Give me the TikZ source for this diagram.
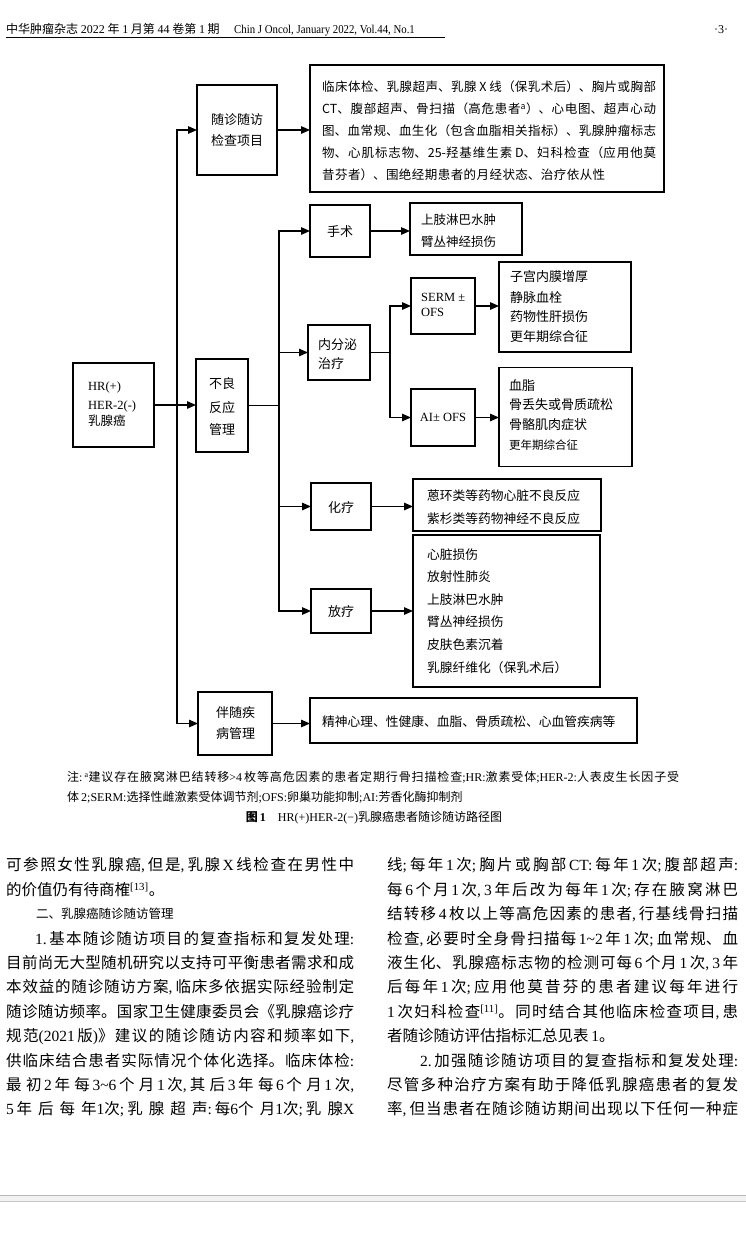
\documentclass[tikz,border=0pt]{standalone}
\usepackage{fontspec}
\setmainfont{Noto Sans CJK SC}
\newfontfamily\lat{Liberation Serif}
\newfontfamily\latc[FakeStretch=0.9]{Liberation Serif}
\usetikzlibrary{arrows.meta}
\XeTeXlinebreaklocale "zh"
\XeTeXlinebreakskip=0pt plus 1fil
\setlength{\parindent}{0pt}
\newcommand\myfa{\fontsize{12.5}{15}\selectfont}
\newcommand\myfb{\fontsize{13}{15}\selectfont}
\newcommand\myfc{\fontsize{12.75}{15}\selectfont}
\newcommand\myfs{\fontsize{11.5}{14}\selectfont}
\newcommand\myfl{\fontsize{12.5}{15}\selectfont\lat}
\newcommand\myfbody{\fontsize{15.5}{18}\selectfont}
\newcommand\myfsec{\fontsize{12.5}{15}\selectfont}
\newcommand\myfcap{\fontsize{12}{14}\selectfont}
\newcommand\pcm{{\lat,}\hspace{0.2em}}
\newcommand\psc{{\lat;}\hspace{0.2em}}
\newcommand\pco{{\lat:}\hspace{0.2em}}
\newcommand\jline[5]{\node[inner sep=0pt,anchor=base west,text width=#3pt,align=justify,font=#4] (#1) at (#2) {\parfillskip=0pt\relax #5\par};}
\tikzset{
  box/.style={draw, line width=1.35pt, inner sep=0pt, outer sep=0pt},
  arr/.style={line width=1.35pt, -{Triangle[length=9pt,width=7.5pt]}},
  ln/.style={line width=1.35pt, line cap=rect},
  tx/.style={inner sep=0pt, anchor=base west},
  tc/.style={inner sep=0pt, anchor=base},
}
\begin{document}
\begin{tikzpicture}[x=1pt,y=-1pt]
\fill[white] (0,0) rectangle (746,1243);
\useasboundingbox (0,0) rectangle (746,1243);

% header
\node[tx,font=\myfcap] (h1) at (6,33) {中华肿瘤杂志 {\lat 2022} 年 {\lat 1} 月第 {\lat 44} 卷第 {\lat 1} 期};
\node[tx,font=\myfcap\latc] (h2) at (234,33) {Chin J Oncol, January 2022, Vol.44, No.1};
\node[tx,font=\myfcap\lat] (h3) at (714,33) {·3·};
\draw[line width=0.7pt] (6,37.5) -- (445,37.5);

% boxes
\node[box, minimum width=354pt, minimum height=127pt] (exam) at (487,128.5) {};
\node[box, minimum width=80pt, minimum height=90pt] (sz) at (237,130) {};
\node[box, minimum width=81pt, minimum height=84pt] (hr) at (113.5,405) {};
\node[box, minimum width=52pt, minimum height=93pt] (bl) at (222,405.5) {};
\node[box, minimum width=60pt, minimum height=52pt] (ss) at (340,231) {};
\node[box, minimum width=112pt, minimum height=52pt] (ssr) at (466,229) {};
\node[box, minimum width=62pt, minimum height=55pt] (nf) at (339,352.5) {};
\node[box, minimum width=64pt, minimum height=56pt] (serm) at (443,306) {};
\node[box, minimum width=132pt, minimum height=90pt] (sermr) at (565,307) {};
\node[box, minimum width=64pt, minimum height=57pt] (ai) at (443,417.5) {};
\node[box, minimum width=133pt, minimum height=99pt] (air) at (565.5,417.2) {};
\node[box, minimum width=60pt, minimum height=47pt] (hl) at (341,506.5) {};
\node[box, minimum width=188pt, minimum height=52pt] (hlr) at (507,505) {};
\node[box, minimum width=60pt, minimum height=44pt] (fl) at (341,611) {};
\node[box, minimum width=187pt, minimum height=152pt] (flr) at (506.5,611) {};
\node[box, minimum width=74pt, minimum height=63pt] (bs) at (235,723.5) {};
\node[box, minimum width=327pt, minimum height=45pt] (bsr) at (473.5,720.5) {};

% connectors
\coordinate (t1a) at (177,130);
\coordinate (t1b) at (177,723.5);
\draw[ln] (t1a) -- (t1b);
\draw[arr] (t1a) -- (sz.west);
\draw[arr] (t1b) -- (bs.west);
\draw[arr] (sz.east) -- (exam.west |- sz.east);
\draw[arr] (hr.east) -- (bl.west |- hr.east);
\coordinate (t2a) at (279,231);
\coordinate (t2b) at (279,611);
\draw[ln] (bl.east) -- (t2a |- bl.east);
\draw[ln] (t2a) -- (t2b);
\draw[arr] (t2a) -- (ss.west);
\draw[arr] (t2a |- nf.west) -- (nf.west);
\draw[arr] (t2a |- hl.west) -- (hl.west);
\draw[arr] (t2b) -- (fl.west);
\draw[arr] (ss.east) -- (ssr.west |- ss.east);
\coordinate (j) at (390,352.5);
\draw[ln] (nf.east) -- (j);
\draw[ln] (j |- serm.west) -- (j |- ai.west);
\draw[arr] (j |- serm.west) -- (serm.west);
\draw[arr] (j |- ai.west) -- (ai.west);
\draw[arr] (serm.east) -- (sermr.west |- serm.east);
\draw[arr] (ai.east) -- (air.west |- ai.east);
\draw[arr] (hl.east) -- (hlr.west |- hl.east);
\draw[arr] (fl.east) -- (flr.west |- fl.east);
\draw[arr] (bs.east) -- (bsr.west |- bs.east);

% top box text
\jline{ex1}{322,91.75}{334}{\myfa}{临床体检、乳腺超声、乳腺 X 线（保乳术后）、胸片或胸部}
\jline{ex2}{322,113.75}{334}{\myfa}{CT、腹部超声、骨扫描（高危患者\textsuperscript{a}）、心电图、超声心动}
\jline{ex3}{322,135.75}{334}{\myfa}{图、血常规、血生化（包含血脂相关指标）、乳腺肿瘤标志}
\jline{ex4}{322,157.75}{334}{\myfa}{物、心肌标志物、25-羟基维生素 D、妇科检查（应用他莫}
\jline{ex5}{322,179.75}{283}{\myfa}{昔芬者）、围绝经期患者的月经状态、治疗依从性}

% box labels
\node[tc,font=\myfb] (szt1) at (237,124.9) {随诊随访};
\node[tc,font=\myfb] (szt2) at (237,145.9) {检查项目};
\node[tx,font=\myfl] (hrt1) at (88,390) {HR(+)};
\node[tx,font=\myfl] (hrt2) at (88,409) {HER-2(-)};
\node[tx,font=\myfa] (hrt3) at (88,425.5) {乳腺癌};
\node[tc,font=\myfb] (blt1) at (222,388) {不良};
\node[tc,font=\myfb] (blt2) at (222,412) {反应};
\node[tc,font=\myfb] (blt3) at (222,434) {管理};
\node[tc,font=\myfb] (sst) at (340,236) {手术};
\node[tx,font=\myfb] (nft1) at (318,349) {内分泌};
\node[tx,font=\myfb] (nft2) at (318,368) {治疗};
\node[tx,font=\myfl] (smt1) at (421,301) {SERM ±};
\node[tx,font=\myfl] (smt2) at (421,316.5) {OFS};
\node[tc,font=\myfl] (ait) at (443,421.5) {AI± OFS};
\node[tc,font=\myfb] (hlt) at (341,512) {化疗};
\node[tc,font=\myfb] (flt) at (341,616) {放疗};
\node[tx,font=\myfb] (bst1) at (216,717) {伴随疾};
\node[tx,font=\myfb] (bst2) at (216,738) {病管理};

% result texts
\node[tx,font=\myfa] (sr1) at (421,224.75) {上肢淋巴水肿};
\node[tx,font=\myfa] (sr2) at (421,246.75) {臂丛神经损伤};
\node[tx,font=\myfb] (er1) at (510,281.9) {子宫内膜增厚};
\node[tx,font=\myfb] (er2) at (510,302.9) {静脉血栓};
\node[tx,font=\myfb] (er3) at (510,321.9) {药物性肝损伤};
\node[tx,font=\myfb] (er4) at (510,341.4) {更年期综合征};
\node[tx,font=\myfb] (ar1) at (509,390.9) {血脂};
\node[tx,font=\myfb] (ar2) at (509,409.9) {骨丢失或骨质疏松};
\node[tx,font=\myfb] (ar3) at (509,429.4) {骨骼肌肉症状};
\node[tx,font=\myfs] (ar4) at (509,449.4) {更年期综合征};
\node[tx,font=\myfc] (cr1) at (427,500.85) {蒽环类等药物心脏不良反应};
\node[tx,font=\myfc] (cr2) at (427,523.85) {紫杉类等药物神经不良反应};
\node[tx,font=\myfc] (rr1) at (427,559.85) {心脏损伤};
\node[tx,font=\myfc] (rr2) at (427,581.85) {放射性肺炎};
\node[tx,font=\myfc] (rr3) at (427,604.85) {上肢淋巴水肿};
\node[tx,font=\myfc] (rr4) at (427,626.85) {臂丛神经损伤};
\node[tx,font=\myfc] (rr5) at (427,649.85) {皮肤色素沉着};
\node[tx,font=\myfc] (rr6) at (427,672.85) {乳腺纤维化（保乳术后）};
\node[tx,font=\myfc] (br1) at (322,726.85) {精神心理、性健康、血脂、骨质疏松、心血管疾病等};

% notes and caption
\jline{n1}{67,781.6}{612}{\myfcap}{注{\lat :}\,\textsuperscript{\lat a}建议存在腋窝淋巴结转移{\lat >4}\,枚等高危因素的患者定期行骨扫描检查{\lat ;HR:}激素受体{\lat ;HER-2:}人表皮生长因子受}
\node[tx,font=\myfcap] (n2) at (67,801.6) {体\,{\lat 2;SERM:}选择性雌激素受体调节剂{\lat ;OFS:}卵巢功能抑制{\lat ;AI:}芳香化酶抑制剂};
\node[tc,font=\myfcap] (cap) at (374,821.6) {{\bfseries 图\,{\lat 1}}\quad{\lat HR(+)HER-2(−)}乳腺癌患者随诊随访路径图};

% body left column
\jline{l1}{6,870.9}{348}{\myfbody}{可参照女性乳腺癌\pcm 但是\pcm 乳腺\,{\lat X}\,线检查在男性中}
\node[tx,font=\myfbody] (l2) at (6,895.3) {的价值仍有待商榷\textsuperscript{\lat [13]}。};
\node[tx,font=\myfsec] (l3) at (36,918.8) {二、乳腺癌随诊随访管理};
\jline{l4}{35,944.1}{319}{\myfbody}{{\lat 1.}\,基本随诊随访项目的复查指标和复发处理\pco}
\jline{l5}{6,968.5}{348}{\myfbody}{目前尚无大型随机研究以支持可平衡患者需求和成}
\jline{l6}{6,992.9}{348}{\myfbody}{本效益的随诊随访方案\pcm 临床多依据实际经验制定}
\jline{l7}{6,1017.3}{348}{\myfbody}{随诊随访频率。国家卫生健康委员会《乳腺癌诊疗}
\jline{l8}{6,1041.7}{348}{\myfbody}{规范{\lat (2021}\,版{\lat )}》建议的随诊随访内容和频率如下\pcm}
\jline{l9}{6,1066.1}{348}{\myfbody}{供临床结合患者实际情况个体化选择。临床体检\pco}
\jline{l10}{6,1090.5}{348}{\myfbody}{最初\,{\lat 2}\,年每\,{\lat 3\textasciitilde 6}\,个月\,{\lat 1}\,次\pcm 其后\,{\lat 3}\,年每\,{\lat 6}\,个月\,{\lat 1}\,次\pcm}
\jline{l11}{6,1114.9}{348}{\myfbody}{{\lat 5}\,年后每年{\lat 1}次\psc 乳腺超声\pco 每{\lat 6}个月{\lat 1}次\psc 乳腺{\lat X}}

% body right column
\jline{r1}{387,870.9}{351}{\myfbody}{线\psc 每年\,{\lat 1}\,次\psc 胸片或胸部\,{\lat CT}\pco 每年\,{\lat 1}\,次\psc 腹部超声\pco}
\jline{r2}{387,895.3}{351}{\myfbody}{每\,{\lat 6}\,个月\,{\lat 1}\,次\pcm{\lat 3}\,年后改为每年\,{\lat 1}\,次\psc 存在腋窝淋巴}
\jline{r3}{387,919.7}{351}{\myfbody}{结转移\,{\lat 4}\,枚以上等高危因素的患者\pcm 行基线骨扫描}
\jline{r4}{387,944.1}{351}{\myfbody}{检查\pcm 必要时全身骨扫描每\,{\lat 1\textasciitilde 2}\,年\,{\lat 1}\,次\psc 血常规、血}
\jline{r5}{387,968.5}{351}{\myfbody}{液生化、乳腺癌标志物的检测可每\,{\lat 6}\,个月\,{\lat 1}\,次\pcm{\lat 3}\,年}
\jline{r6}{387,992.9}{351}{\myfbody}{后每年\,{\lat 1}\,次\psc 应用他莫昔芬的患者建议每年进行}
\jline{r7}{387,1017.3}{351}{\myfbody}{{\lat 1}\,次妇科检查\textsuperscript{\lat [11]}。同时结合其他临床检查项目\pcm 患}
\node[tx,font=\myfbody] (r8) at (387,1041.7) {者随诊随访评估指标汇总见表\,{\lat 1}。};
\jline{r9}{420,1066.1}{318}{\myfbody}{{\lat 2.}\,加强随诊随访项目的复查指标和复发处理\pco}
\jline{r10}{387,1090.5}{351}{\myfbody}{尽管多种治疗方案有助于降低乳腺癌患者的复发}
\jline{r11}{387,1114.9}{351}{\myfbody}{率\pcm 但当患者在随诊随访期间出现以下任何一种症}

% page edge band
\fill[gray!10] (0,1195) rectangle (746,1201.5);
\draw[gray!55, line width=0.8pt] (0,1195) -- (746,1195);
\draw[gray!45, line width=0.8pt] (0,1201.5) -- (746,1201.5);
\end{tikzpicture}
\end{document}
